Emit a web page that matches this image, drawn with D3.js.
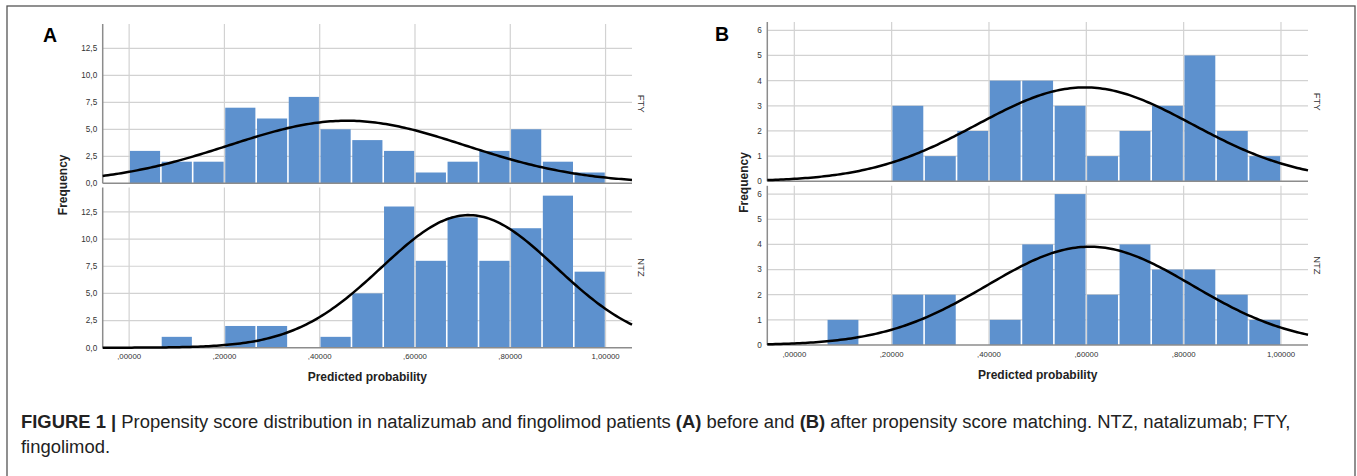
<!DOCTYPE html>
<html>
<head>
<meta charset="utf-8">
<script src="https://cdn.jsdelivr.net/npm/d3@7"></script>
<style>
  body { margin: 0; background: #fff; }
  svg { display: block; font-family: "Liberation Sans", Arial, sans-serif; }
</style>
</head>
<body>
<div id="chart"></div>
<script>
// histogram counts, 15 equal bins between 0 and 1
var groups = ["FTY", "NTZ"];
var countsBeforeFTY = [3, 2, 2, 7, 6, 8, 5, 4, 3, 1, 2, 3, 5, 2, 1];
var countsBeforeNTZ = [0, 1, 0, 2, 2, 0, 1, 5, 13, 8, 12, 8, 11, 14, 7];
var countsAfterFTY  = [0, 0, 0, 3, 1, 2, 4, 4, 3, 1, 2, 3, 5, 2, 1];
var countsAfterNTZ  = [0, 1, 0, 2, 2, 0, 1, 4, 6, 2, 4, 3, 3, 2, 1];

// fitted normal curves (mean, sd)
var curveMeanBefore = [0.457, 0.713];
var curveSdBefore   = [0.248, 0.183];
var curveMeanAfter  = [0.597, 0.607];
var curveSdAfter    = [0.221, 0.211];

var xTicks = [0, 0.2, 0.4, 0.6, 0.8, 1.0];
var xTickLabels = [",00000", ",20000", ",40000", ",60000", ",80000", "1,00000"];
var yTicksBefore = [0, 2.5, 5, 7.5, 10, 12.5];
var yTickLabelsBefore = ["0,0", "2,5", "5,0", "7,5", "10,0", "12,5"];
var yTicksAfter = [0, 1, 2, 3, 4, 5, 6];
var yTickLabelsAfter = ["0", "1", "2", "3", "4", "5", "6"];

var binCount = 15;
var barColor = "#5d91ce";
var gridColor = "#d2d2d2";
var axisColor = "#8c8c8c";

var svg = d3.select("#chart").append("svg")
    .attr("width", 1357)
    .attr("height", 476);

// outer frame (bottom edge falls outside the picture)
svg.append("rect")
    .attr("x", 7).attr("y", 6)
    .attr("width", 1348).attr("height", 490)
    .attr("fill", "none")
    .attr("stroke", "#555")
    .attr("stroke-width", 1.3);

function drawPanel(cfg) {
    var x = d3.scaleLinear().domain([-0.0555, 1.0555]).range([cfg.left, cfg.right]);
    var binW = 1 / binCount;

    var g = svg.append("g");

    // letter label
    g.append("text")
        .attr("x", cfg.letterX).attr("y", cfg.letterY)
        .attr("font-size", 19.5).attr("font-weight", "bold")
        .text(cfg.letter);

    cfg.panels.forEach(function(p, pi) {
        var y = d3.scaleLinear().domain([0, cfg.yMax]).range([p.base, p.top]);
        var pg = g.append("g");

        // horizontal grid lines
        pg.selectAll(".hgrid").data(cfg.yTicks.slice(1)).enter().append("line")
            .attr("x1", cfg.left).attr("x2", cfg.right)
            .attr("y1", function(d) { return y(d); })
            .attr("y2", function(d) { return y(d); })
            .attr("stroke", gridColor).attr("stroke-width", 1.2);

        // vertical grid lines
        pg.selectAll(".vgrid").data(xTicks).enter().append("line")
            .attr("x1", function(d) { return x(d); })
            .attr("x2", function(d) { return x(d); })
            .attr("y1", p.top).attr("y2", p.base)
            .attr("stroke", gridColor).attr("stroke-width", 1.2);

        // bars (empty bins are skipped)
        var bins = p.counts.map(function(c, i) { return { i: i, c: c }; })
            .filter(function(d) { return d.c > 0; });
        pg.selectAll(".bar").data(bins).enter().append("rect")
            .attr("x", function(d) { return x(d.i * binW) + 0.8; })
            .attr("width", function(d) { return x((d.i + 1) * binW) - x(d.i * binW) - 1.6; })
            .attr("y", function(d) { return y(d.c); })
            .attr("height", function(d) { return p.base - y(d.c); })
            .attr("fill", barColor);

        // axis lines
        pg.append("line")
            .attr("x1", cfg.left).attr("x2", cfg.right)
            .attr("y1", p.base).attr("y2", p.base)
            .attr("stroke", axisColor).attr("stroke-width", 1.5);
        pg.append("line")
            .attr("x1", cfg.left).attr("x2", cfg.left)
            .attr("y1", p.top).attr("y2", p.base)
            .attr("stroke", axisColor).attr("stroke-width", 1.5);

        // y tick labels
        pg.selectAll(".ylab").data(cfg.yTicks).enter().append("text")
            .attr("x", cfg.left - 5.5)
            .attr("y", function(d) { return y(d); })
            .attr("dy", "0.35em")
            .attr("text-anchor", "end")
            .attr("font-size", 8.2)
            .attr("fill", "#333")
            .text(function(d, i) { return cfg.yTickLabels[i]; });

        // fitted normal curve, scaled to counts per bin
        var n = d3.sum(p.counts);
        var mu = p.mean, sd = p.sd;
        var dom = x.domain();
        var pts = d3.range(0, 201).map(function(k) {
            var xv = dom[0] + (dom[1] - dom[0]) * k / 200;
            var dens = Math.exp(-0.5 * Math.pow((xv - mu) / sd, 2)) / (sd * Math.sqrt(2 * Math.PI));
            return [xv, n * binW * dens];
        });
        pg.append("path")
            .datum(pts)
            .attr("fill", "none")
            .attr("stroke", "#000")
            .attr("stroke-width", 2.5)
            .attr("d", d3.line().x(function(d) { return x(d[0]); }).y(function(d) { return y(d[1]); }));

        // group label on the right
        pg.append("text")
            .attr("transform", "translate(" + cfg.groupX + "," + ((p.top + p.base) / 2) + ") rotate(90)")
            .attr("text-anchor", "middle")
            .attr("dy", "0.35em")
            .attr("font-size", 9.5)
            .attr("fill", "#333")
            .text(groups[pi]);
    });

    // x tick labels under the lower panel
    var lowBase = cfg.panels[1].base;
    g.selectAll(".xlab").data(xTicks).enter().append("text")
        .attr("x", function(d) { return x(d); })
        .attr("y", lowBase + 9)
        .attr("dy", "0.35em")
        .attr("text-anchor", "middle")
        .attr("font-size", 7.8)
        .attr("fill", "#333")
        .text(function(d, i) { return xTickLabels[i]; });

    g.append("text")
        .attr("x", (cfg.left + cfg.right) / 2)
        .attr("y", lowBase + 33.5)
        .attr("text-anchor", "middle")
        .attr("font-size", 12).attr("font-weight", "bold")
        .attr("fill", "#222")
        .text("Predicted probability");

    g.append("text")
        .attr("transform", "translate(" + cfg.freqX + "," + ((cfg.panels[0].top + lowBase) / 2 - 1) + ") rotate(-90)")
        .attr("text-anchor", "middle")
        .attr("font-size", 12).attr("font-weight", "bold")
        .attr("fill", "#222")
        .text("Frequency");
}

drawPanel({
    letter: "A", letterX: 43, letterY: 41.7,
    left: 102.7, right: 632, groupX: 641.7, freqX: 67,
    yMax: 14.75, yTicks: yTicksBefore, yTickLabels: yTickLabelsBefore,
    panels: [
        { counts: countsBeforeFTY, mean: curveMeanBefore[0], sd: curveSdBefore[0], top: 24, base: 183.3 },
        { counts: countsBeforeNTZ, mean: curveMeanBefore[1], sd: curveSdBefore[1], top: 187.5, base: 347.7 }
    ]
});

drawPanel({
    letter: "B", letterX: 715, letterY: 40.7,
    left: 767.3, right: 1308, groupX: 1317, freqX: 748,
    yMax: 6.33, yTicks: yTicksAfter, yTickLabels: yTickLabelsAfter,
    panels: [
        { counts: countsAfterFTY, mean: curveMeanAfter[0], sd: curveSdAfter[0], top: 22, base: 181.3 },
        { counts: countsAfterNTZ, mean: curveMeanAfter[1], sd: curveSdAfter[1], top: 185.8, base: 345 }
    ]
});

// caption
var cap = svg.append("g").attr("fill", "#222");
var line1 = cap.append("text").attr("x", 21).attr("y", 428).attr("font-size", 16);
line1.append("tspan").attr("font-weight", "bold").text("FIGURE 1 | ");
line1.append("tspan").text("Propensity score distribution in natalizumab and fingolimod patients ");
line1.append("tspan").attr("font-weight", "bold").text("(A)");
line1.append("tspan").text(" before and ");
line1.append("tspan").attr("font-weight", "bold").text("(B)");
line1.append("tspan").text(" after propensity score matching. NTZ, natalizumab; FTY,");
// fit the first line to the width it has in the figure
var w1 = line1.node().getComputedTextLength();
var capSize = 16 * 1270 / w1;
line1.attr("font-size", capSize);
cap.append("text").attr("x", 21).attr("y", 453).attr("font-size", capSize).text("fingolimod.");
</script>
</body>
</html>
